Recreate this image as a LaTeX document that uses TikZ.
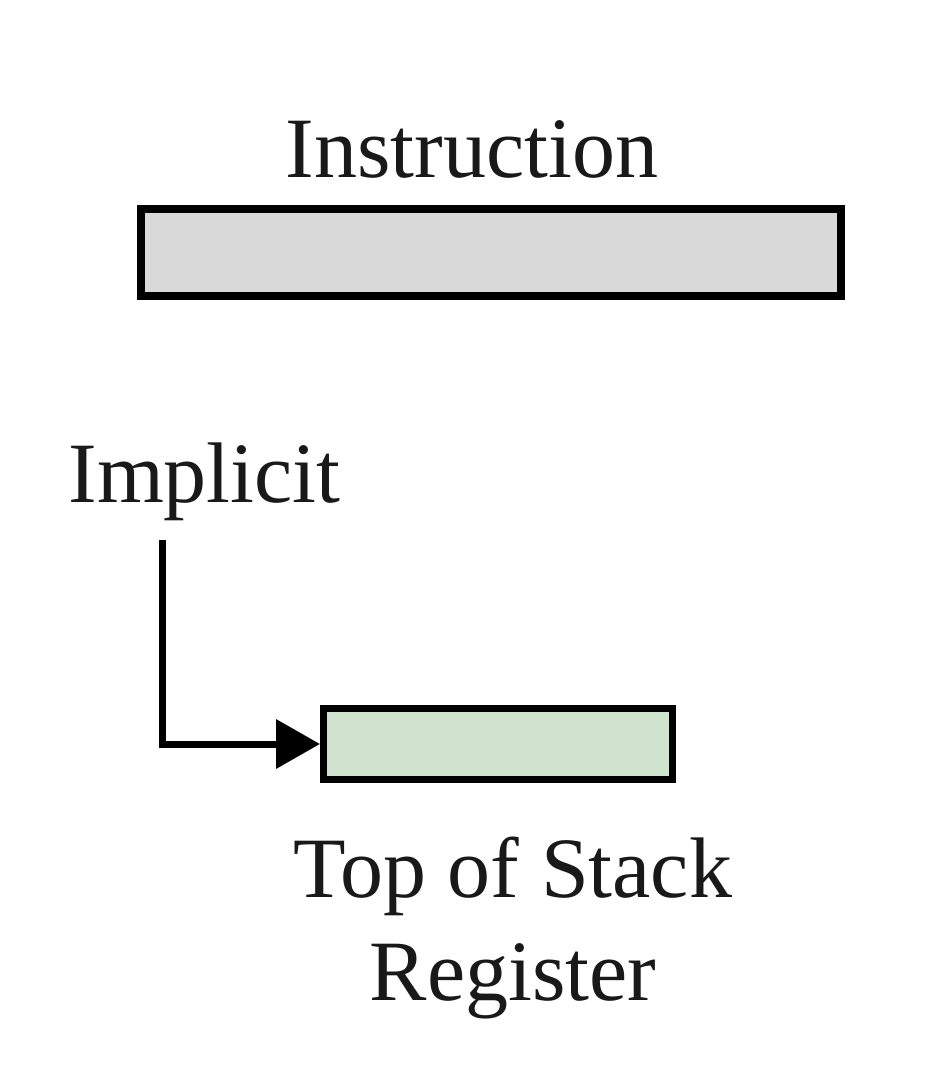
\documentclass[tikz,border=0pt]{standalone}
\usepackage{fontspec}
\setmainfont{Liberation Serif}
\usetikzlibrary{arrows.meta}
\definecolor{boxgray}{HTML}{D9D9D9}
\definecolor{boxgreen}{HTML}{D0E3CE}
\tikzset{
  lbl/.style={font=\fontsize{43}{51.5}\selectfont, inner sep=0pt, text=black!90},
  regbox/.style={draw=black, line width=4pt, inner sep=0pt},
  conn/.style={draw=black, line width=3.5pt, -{Triangle[length=22pt,width=24pt]}}
}
\begin{document}
\begin{tikzpicture}[x=0.5pt,y=-0.5pt]
\useasboundingbox (0,0) rectangle (934,1074);
\node[lbl, anchor=base] (instr) at (472,178) {Instruction};
\node[regbox, fill=boxgray, minimum width=350pt, minimum height=43.5pt] (ibox) at (491,252.5) {};
\node[lbl, anchor=base west] (impl) at (68,502) {Implicit};
\node[regbox, line width=3.5pt, fill=boxgreen, minimum width=174.5pt, minimum height=35.5pt] (tos) at (498,744) {};
\coordinate (start) at (162,540);
\draw[conn] (start) |- (tos.west);
\node[lbl, anchor=base, align=center] (toslbl) at (513,1000) {Top of Stack\\Register};
\end{tikzpicture}
\end{document}
